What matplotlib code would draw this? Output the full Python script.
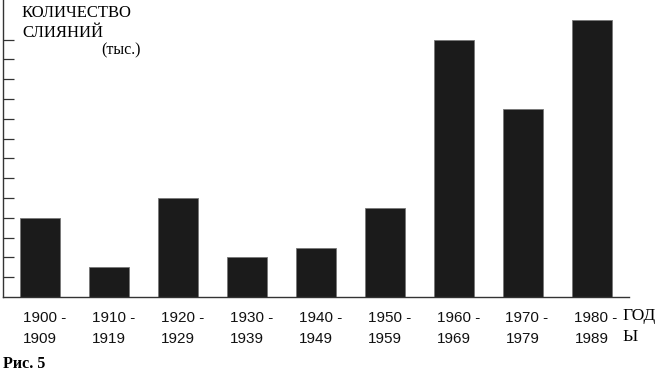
import numpy as np
import matplotlib
matplotlib.use("Agg")
import matplotlib.pyplot as plt

# Количество слияний по десятилетиям (в делениях оси)
periods = ['1900 -\n1909', '1910 -\n1919', '1920 -\n1929', '1930 -\n1939',
           '1940 -\n1949', '1950 -\n1959', '1960 -\n1969', '1970 -\n1979',
           '1980 -\n1989']
values = [4, 1.5, 5, 2, 2.5, 4.5, 13, 9.5, 14]
yticks = list(range(1, 14))

fig = plt.figure(figsize=(6.71, 3.90), dpi=100)
ax = fig.add_axes([3/671, 93/390, 626/671, 297/390])

x = np.arange(len(values))
w = 0.58
ax.bar(x, values, width=w, color='#1b1b1b', edgecolor='#777777', linewidth=0.6)

ax.set_xlim(-0.543, 8.53)
ax.set_ylim(0, 15)

# подписи периодов - выровнены по левому краю столбца
ax.set_xticks(x - w/2 + 0.03)
ax.set_xticklabels(periods, ha='left', fontsize=11, family='Liberation Sans',
                   linespacing=1.65)
ax.tick_params(axis='x', length=0, pad=10, colors='#111111')

ax.set_yticks(yticks)
ax.set_yticklabels([])
ax.tick_params(axis='y', direction='in', length=8, width=0.9, color='#333333')

for s in ['top', 'right']:
    ax.spines[s].set_visible(False)
for s in ['left', 'bottom']:
    ax.spines[s].set_color('#333333')
    ax.spines[s].set_linewidth(1.0)

fig.text(22/671, 1 - 5/390, 'КОЛИЧЕСТВО\nСЛИЯНИЙ', ha='left', va='top',
         fontsize=12, family='Liberation Serif', linespacing=1.35)
fig.text(101/671, 1 - 42/390, '(тыс.)', ha='left', va='top',
         fontsize=11.5, family='Liberation Serif')
fig.text(622/671, 1 - 308/390, 'ГОД\nЫ', ha='left', va='top',
         fontsize=12.5, family='Liberation Serif', linespacing=1.45)
fig.text(3/671, 1 - 356/390, 'Рис. 5', ha='left', va='top',
         fontsize=11.5, family='Liberation Serif', fontweight='bold')

fig.savefig('out.png', dpi=100)
